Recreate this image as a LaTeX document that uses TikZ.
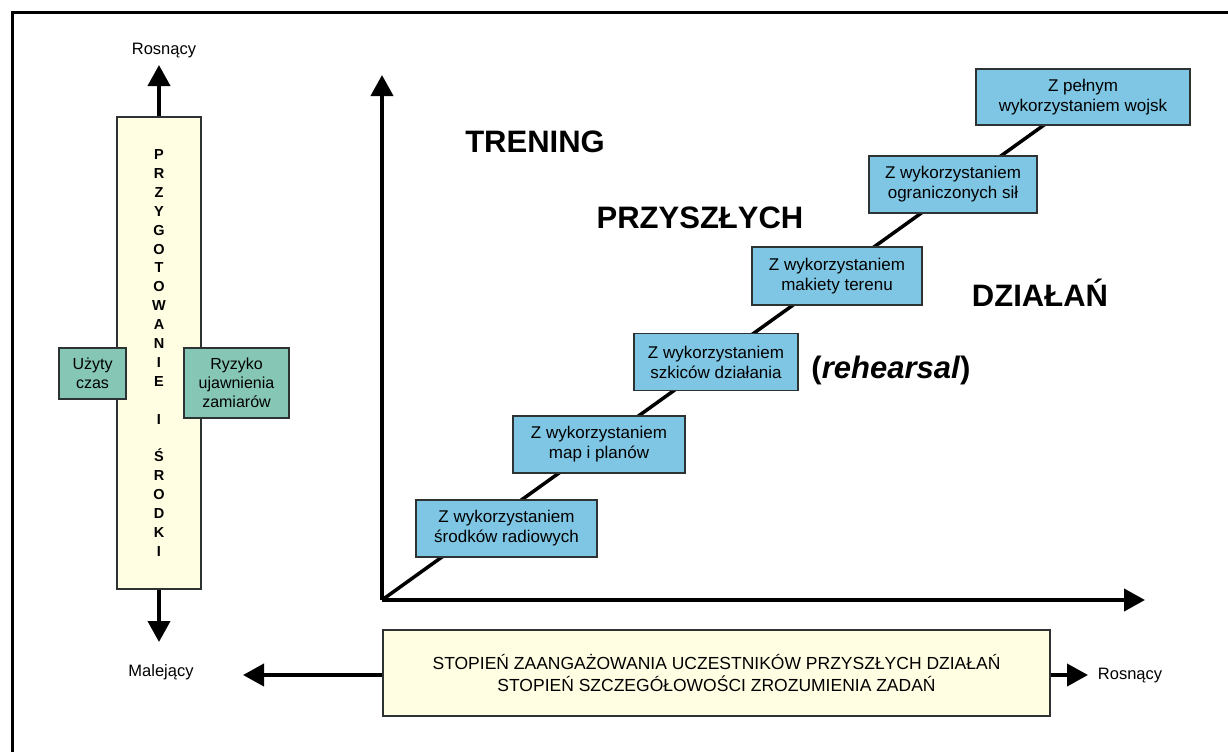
\documentclass[tikz,border=0pt]{standalone}
\usepackage{fontspec}
\setmainfont{Liberation Sans}
\usetikzlibrary{arrows.meta}
\pgfdeclarelayer{background}
\pgfsetlayers{background,main}
\definecolor{paleyellow}{RGB}{255,254,226}
\definecolor{sagegreen}{RGB}{134,198,180}
\definecolor{skyblue}{RGB}{126,198,228}
\definecolor{edgegray}{RGB}{45,50,50}
\tikzset{
  every node/.style={inner sep=0pt},
  thickarrow/.style={line width=4pt,-{Triangle[width=22pt,length=21pt]}},
  column/.style={draw=edgegray,line width=1.4pt,fill=paleyellow},
  sidebox/.style={draw=edgegray,line width=1.4pt,fill=sagegreen,align=center,
    font=\fontsize{16}{19}\selectfont},
  stepbox/.style={draw=edgegray,line width=1.4pt,fill=skyblue,align=center,
    font=\fontsize{17}{20}\selectfont},
  bigword/.style={font=\fontsize{31}{36}\selectfont\bfseries},
  endlabel/.style={font=\fontsize{16.5}{19}\selectfont}
}
\begin{document}
\begin{tikzpicture}[x=1pt,y=-1pt]
\useasboundingbox (0,0) rectangle (1228,752);
\begin{pgfonlayer}{background}
\fill[white] (0,0) rectangle (1228,752);
\end{pgfonlayer}
% page frame
\draw[line width=3pt] (12.5,752) -- (12.5,12.5) -- (1228,12.5);

% left scale: preparation and means
\node[column,minimum width=84pt,minimum height=472pt,align=center,
  font=\fontsize{14.5}{18.9}\selectfont\bfseries] (col) at (159,353)
  {P\\R\\Z\\Y\\G\\O\\T\\O\\W\\A\\N\\I\\E\\~\\I\\~\\Ś\\R\\O\\D\\K\\I};
\node[sidebox,minimum width=67pt,minimum height=51pt] (czas) at (92.5,373.5) {Użyty\\czas};
\node[sidebox,minimum width=105pt,minimum height=70pt] (ryzyko) at (236.5,383) {Ryzyko\\ujawnienia\\zamiarów};
\coordinate (coltop) at (159,65);
\coordinate (colbot) at (159,642);
\draw[thickarrow] (col.north) -- (coltop);
\draw[thickarrow] (col.south) -- (colbot);
\node[endlabel] (rosnie) at (164,51) {Rosnący};
\node[endlabel] (maleje) at (161,672) {Malejący};

% axes
\coordinate (O) at (382,600);
\coordinate (ytip) at (382,75);
\coordinate (xtip) at (1145,600);

% steps
\node[stepbox,minimum width=181pt,minimum height=57pt] (s1) at (506.5,528.5) {Z wykorzystaniem\\środków radiowych};
\node[stepbox,minimum width=172pt,minimum height=57pt] (s2) at (599,444.5) {Z wykorzystaniem\\map i planów};
\node[stepbox,minimum width=164pt,minimum height=57pt] (s3) at (716,362) {Z wykorzystaniem\\szkiców działania};
\node[stepbox,minimum width=170pt,minimum height=58pt] (s4) at (837,276) {Z wykorzystaniem\\makiety terenu};
\node[stepbox,minimum width=168pt,minimum height=57pt] (s5) at (953,184.5) {Z wykorzystaniem\\ograniczonych sił};
\node[stepbox,minimum width=214pt,minimum height=56pt] (s6) at (1083,97) {Z pełnym\\wykorzystaniem wojsk};

% rising line behind the steps
\begin{pgfonlayer}{background}
\draw[line width=3.5pt] (O) -- (s6.center);
\end{pgfonlayer}
\draw[thickarrow] (O) -- (ytip);
\draw[thickarrow] (O) -- (xtip);

\node[bigword] (w1) at (535,142) {TRENING};
\node[bigword] (w2) at (700,218) {PRZYSZŁYCH};
\node[bigword] (w3) at (1040,293) {DZIAŁAŃ};
\node[bigword] (w4) at (891,370) {(\textit{rehearsal})};

% bottom scale
\node[column,minimum width=667pt,minimum height=86pt,align=center,
  font=\fontsize{17.5}{22}\selectfont] (deg) at (716.5,673)
  {STOPIEŃ ZAANGAŻOWANIA UCZESTNIKÓW PRZYSZŁYCH DZIAŁAŃ\\STOPIEŃ SZCZEGÓŁOWOŚCI ZROZUMIENIA ZADAŃ};
\coordinate (ltip) at (243,675);
\coordinate (rtip) at (1088,675);
\draw[thickarrow] (deg.west |- ltip) -- (ltip);
\draw[thickarrow] (deg.east |- rtip) -- (rtip);
\node[endlabel] (rosnie2) at (1130,676) {Rosnący};
\end{tikzpicture}
\end{document}
